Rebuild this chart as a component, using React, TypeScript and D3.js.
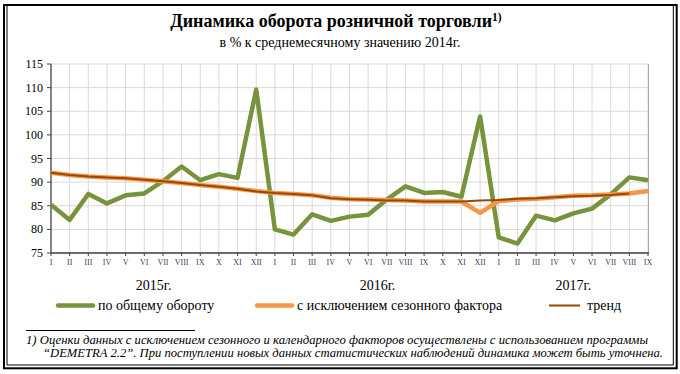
import React from 'react';
import * as d3 from 'd3';

const months = ['I', 'II', 'III', 'IV', 'V', 'VI', 'VII', 'VIII', 'IX', 'X', 'XI', 'XII',
  'I', 'II', 'III', 'IV', 'V', 'VI', 'VII', 'VIII', 'IX', 'X', 'XI', 'XII',
  'I', 'II', 'III', 'IV', 'V', 'VI', 'VII', 'VIII', 'IX'];

const years = [
  {label: '2015г.', from: 0, to: 11},
  {label: '2016г.', from: 12, to: 23},
  {label: '2017г.', from: 24, to: 32},
];

// по общему обороту
const total = [85.2, 82.0, 87.5, 85.5, 87.2, 87.6, 90.2, 93.3, 90.4, 91.7, 90.9, 109.6,
  80.0, 78.9, 83.2, 81.8, 82.7, 83.1, 86.3, 89.1, 87.7, 87.9, 86.9, 103.9,
  78.3, 77.0, 82.9, 81.9, 83.4, 84.4, 87.4, 91.0, 90.4];

// с исключением сезонного фактора
const seasAdj = [92.0, 91.5, 91.2, 91.0, 90.8, 90.5, 90.2, 89.8, 89.4, 89.0, 88.6, 88.1,
  87.7, 87.5, 87.2, 86.7, 86.4, 86.3, 86.2, 86.1, 85.9, 85.9, 85.9, 83.5,
  86.0, 86.3, 86.5, 86.8, 87.1, 87.2, 87.4, 87.6, 88.1];

// тренд
const trend = [92.0, 91.5, 91.2, 91.0, 90.8, 90.5, 90.2, 89.8, 89.4, 89.0, 88.6, 88.0,
  87.7, 87.5, 87.2, 86.6, 86.4, 86.25, 86.1, 86.1, 85.9, 85.9, 85.9, 86.1,
  86.2, 86.5, 86.6, 86.8, 87.0, 87.1, 87.3, 87.6];

const yTicks = [75, 80, 85, 90, 95, 100, 105, 110, 115];

const font = '"Liberation Serif", "Times New Roman", serif';

export default function App() {
  const width = 680, height = 374;
  const x = d3.scalePoint<number>().domain(d3.range(months.length)).range([51, 648]);
  const y = d3.scaleLinear().domain([75, 115]).range([253, 64]);

  const line = d3.line<number>()
    .x((d, i) => x(i) as number)
    .y(d => y(d));

  return (
    <svg width={width} height={height} style={{position: 'absolute', left: 0, top: 0, background: '#fff'}}
         fontFamily={font}>
      {/* double frame */}
      <rect x={4} y={5} width={672.7} height={363.3} fill="none" stroke="#000" strokeWidth={2} />
      <path d="M7,5 V365 H673.3 V5" fill="none" stroke="#000" strokeWidth={1} />

      <text x={336} y={27} textAnchor="middle" fontSize={18} fontWeight="bold">
        Динамика оборота розничной торговли
        <tspan fontSize={11.5} dy={-6}>1)</tspan>
      </text>
      <text x={340} y={47} textAnchor="middle" fontSize={14}>
        в % к среднемесячному значению 2014г.
      </text>

      {/* grid */}
      {yTicks.map(t => (
        <line key={'h' + t} x1={51} x2={648} y1={y(t)} y2={y(t)} stroke="#d9d9d9" strokeWidth={1} />
      ))}
      {months.map((m, i) => (
        <line key={'v' + i} x1={x(i)} x2={x(i)} y1={y(115)} y2={y(75)} stroke="#d9d9d9" strokeWidth={1} />
      ))}
      <line x1={648.5} x2={648.5} y1={y(115)} y2={y(75)} stroke="#a6a6a6" strokeWidth={1} />

      {/* axes */}
      <line x1={51} x2={51} y1={y(115)} y2={y(75)} stroke="#404040" strokeWidth={1.2} />
      <line x1={51} x2={649} y1={y(75)} y2={y(75)} stroke="#404040" strokeWidth={1.5} />
      {yTicks.map(t => (
        <g key={'yt' + t}>
          <line x1={47} x2={51} y1={y(t)} y2={y(t)} stroke="#404040" />
          <text x={43} y={y(t) + 4} textAnchor="end" fontSize={12}>{t}</text>
        </g>
      ))}
      {months.map((m, i) => (
        <g key={'xt' + i}>
          <line x1={x(i)} x2={x(i)} y1={y(75)} y2={y(75) + 3} stroke="#404040" />
          <text x={x(i)} y={265} textAnchor="middle" fontSize={8} fill="#404060">{m}</text>
        </g>
      ))}
      {years.map(yr => (
        <text key={yr.label} x={((x(yr.from) as number) + (x(yr.to) as number)) / 2} y={290}
              textAnchor="middle" fontSize={14}>{yr.label}</text>
      ))}

      {/* series */}
      <path d={line(total) || ''} fill="none" stroke="#77933c" strokeWidth={4.5} strokeLinejoin="round" />
      <path d={line(seasAdj) || ''} fill="none" stroke="#f79646" strokeWidth={4.5} strokeLinejoin="round" />
      <path d={line(trend) || ''} fill="none" stroke="#984807" strokeWidth={2} strokeLinejoin="round" />

      {/* legend */}
      <line x1={58} x2={93} y1={305.5} y2={305.5} stroke="#77933c" strokeWidth={4.5} strokeLinecap="round" />
      <text x={98} y={310} fontSize={14}>по общему обороту</text>
      <line x1={257} x2={292} y1={305.5} y2={305.5} stroke="#f79646" strokeWidth={4.5} strokeLinecap="round" />
      <text x={297} y={310} fontSize={14}>с исключением сезонного фактора</text>
      <line x1={549} x2={580} y1={305.5} y2={305.5} stroke="#984807" strokeWidth={2} />
      <text x={587} y={310} fontSize={14}>тренд</text>

      {/* footnote */}
      <line x1={26} x2={195} y1={330.5} y2={330.5} stroke="#000" strokeWidth={1} />
      <text x={26} y={344} fontSize={11.5} fontStyle="italic" textLength={622} lengthAdjust="spacingAndGlyphs">
        1) Оценки данных с исключением сезонного и календарного факторов осуществлены с использованием программы
      </text>
      <text x={43} y={357} fontSize={11.5} fontStyle="italic" textLength={620} lengthAdjust="spacingAndGlyphs">
        “DEMETRA 2.2”. При поступлении новых данных статистических наблюдений динамика может быть уточнена.
      </text>
    </svg>
  );
}
